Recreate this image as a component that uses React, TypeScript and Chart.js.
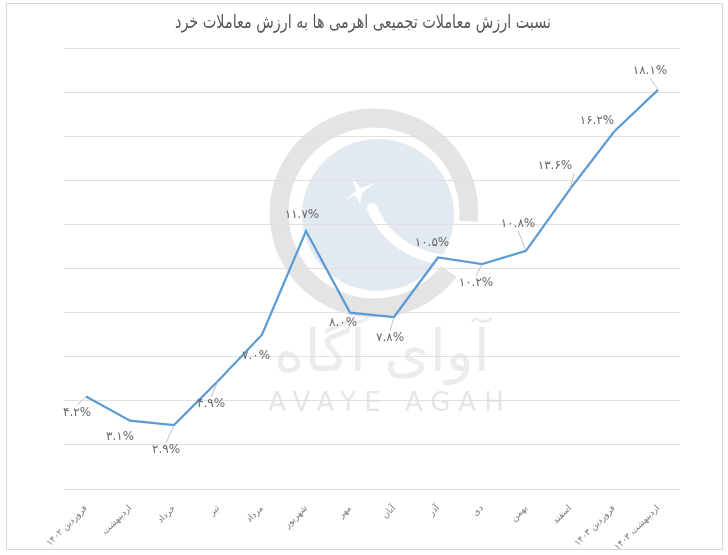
import React, { useEffect, useRef } from "react";
import { Chart, registerables } from "chart.js";

Chart.register(...registerables);

const TITLE = "نسبت ارزش معاملات تجمیعی اهرمی ها به ارزش معاملات خرد";

const categories = [
  "فروردین ۱۴۰۲",
  "اردیبهشت",
  "خرداد",
  "تیر",
  "مرداد",
  "شهریور",
  "مهر",
  "آبان",
  "آذر",
  "دی",
  "بهمن",
  "اسفند",
  "فروردین ۱۴۰۳",
  "اردیبهشت ۱۴۰۳",
];

const values = [4.2, 3.1, 2.9, 4.9, 7.0, 11.7, 8.0, 7.8, 10.5, 10.2, 10.8, 13.6, 16.2, 18.1];

const yMin = 0;
const yMax = 20;
const yStep = 2;

// label placement relative to each point: [dx, dy, leaderLine]
const labelOffsets: [number, number, boolean][] = [
  [-9, 16, true],
  [-10, 16, false],
  [-8, 25, true],
  [-7, 23, true],
  [-6, 21, false],
  [-4, -16, false],
  [-7, 10, false],
  [-4, 21, true],
  [-6, -15, false],
  [-6, 19, true],
  [-8, -27, true],
  [-15, -23, true],
  [-17, -11, true],
  [-8, -19, true],
];

const FA_DIGITS = "۰۱۲۳۴۵۶۷۸۹";
function toFa(v: number): string {
  return v
    .toFixed(1)
    .replace(/[0-9]/g, (d) => FA_DIGITS[Number(d)]) + "%";
}

const FONT = "'DejaVu Sans', 'Noto Sans', sans-serif";
const TEXT_COLOR = "#666666";

const framePlugin = {
  id: "frameAndWatermark",
  beforeDraw(chart: any) {
    const ctx = chart.ctx as CanvasRenderingContext2D;
    ctx.save();
    ctx.fillStyle = "#ffffff";
    ctx.fillRect(0, 0, chart.width, chart.height);
    // outer border
    ctx.strokeStyle = "#d9d9d9";
    ctx.lineWidth = 1;
    ctx.strokeRect(6.5, 3.5, 716, 546);

    // watermark
    const cx = 374;
    const cy = 213;
    ctx.strokeStyle = "#e4e4e4";
    ctx.lineWidth = 19;
    ctx.beginPath();
    ctx.arc(cx, cy, 95, (38 * Math.PI) / 180, (365 * Math.PI) / 180);
    ctx.stroke();

    ctx.fillStyle = "#e2e9f1";
    ctx.beginPath();
    ctx.arc(cx + 4, cy + 2, 76, 0, Math.PI * 2);
    ctx.fill();

    // swoosh
    ctx.strokeStyle = "#ffffff";
    ctx.lineWidth = 10;
    ctx.lineCap = "round";
    ctx.beginPath();
    ctx.moveTo(372, 208);
    ctx.quadraticCurveTo(395, 262, 470, 262);
    ctx.stroke();
    // star
    ctx.fillStyle = "#ffffff";
    const sx = 358;
    const sy = 190;
    ctx.beginPath();
    ctx.moveTo(sx - 13, sy + 10);
    ctx.lineTo(sx - 2, sy + 1);
    ctx.lineTo(sx - 6, sy - 12);
    ctx.lineTo(sx + 3, sy - 2);
    ctx.lineTo(sx + 16, sy - 7);
    ctx.lineTo(sx + 4, sy + 3);
    ctx.lineTo(sx + 2, sy + 14);
    ctx.lineTo(sx - 3, sy + 5);
    ctx.closePath();
    ctx.fill();

    // watermark texts
    ctx.fillStyle = "#ececec";
    ctx.textAlign = "center";
    ctx.textBaseline = "middle";
    ctx.font = `58px ${FONT}`;
    ctx.fillText("آوای آگاه", 382, 356);
    ctx.fillStyle = "#e6e6e6";
    ctx.font = `26px ${FONT}`;
    (ctx as any).letterSpacing = "8px";
    ctx.fillText("AVAYE AGAH", 390, 404);
    (ctx as any).letterSpacing = "0px";

    // title (compressed horizontally to match the reference width)
    ctx.fillStyle = "#595959";
    ctx.font = `19px ${FONT}`;
    ctx.textAlign = "center";
    ctx.textBaseline = "middle";
    const w = ctx.measureText(TITLE).width;
    const sc = Math.min(1, 376 / w);
    ctx.translate(363, 23);
    ctx.scale(sc, 1);
    ctx.fillText(TITLE, 0, 0);
    ctx.restore();
  },
};

const labelPlugin = {
  id: "pointLabels",
  afterDatasetsDraw(chart: any) {
    const ctx = chart.ctx as CanvasRenderingContext2D;
    const meta = chart.getDatasetMeta(0);
    ctx.save();
    ctx.font = `12px ${FONT}`;
    ctx.textAlign = "center";
    ctx.textBaseline = "middle";
    meta.data.forEach((pt: any, i: number) => {
      const [dx, dy, leader] = labelOffsets[i];
      const lx = pt.x + dx;
      const ly = pt.y + dy;
      const text = toFa(values[i]);
      if (leader) {
        const w = ctx.measureText(text).width;
        let ex = lx;
        let ey = ly;
        if (dy > 0) ey = ly - 7;
        else ey = ly + 7;
        if (Math.abs(dx) > 12) ex = lx + w / 2 + 2;
        ctx.strokeStyle = "#b0b0b0";
        ctx.lineWidth = 0.8;
        ctx.beginPath();
        ctx.moveTo(pt.x, pt.y);
        ctx.lineTo(ex, ey);
        ctx.stroke();
      }
      ctx.fillStyle = TEXT_COLOR;
      ctx.fillText(text, lx, ly);
    });
    ctx.restore();
  },
};

export default function App() {
  const canvasRef = useRef<HTMLCanvasElement | null>(null);

  useEffect(() => {
    if (!canvasRef.current) return;
    const chart = new Chart(canvasRef.current, {
      type: "line",
      data: {
        labels: categories,
        datasets: [
          {
            data: values,
            borderColor: "#5b9bd5",
            borderWidth: 2.25,
            pointRadius: 0,
            tension: 0,
            fill: false,
          },
        ],
      },
      options: {
        responsive: false,
        animation: false,
        layout: { padding: { left: 64, right: 48, top: 48, bottom: 0 } },
        plugins: {
          legend: { display: false },
          tooltip: { enabled: false },
          title: { display: false },
        },
        scales: {
          x: {
            offset: true,
            grid: { display: false },
            border: { display: false },
            ticks: {
              autoSkip: false,
              minRotation: 45,
              maxRotation: 45,
              padding: 6,
              color: "#7a7a7a",
              font: { family: FONT, size: 9 },
            },
            afterFit: (s: any) => {
              s.height = 66;
            },
          },
          y: {
            min: yMin,
            max: yMax,
            ticks: { display: false, stepSize: yStep },
            grid: { color: "#e0e0e0", drawTicks: false, lineWidth: 1 },
            border: { display: false },
            afterFit: (s: any) => {
              s.width = 0;
            },
          },
        },
      } as any,
      plugins: [framePlugin, labelPlugin],
    });
    return () => chart.destroy();
  }, []);

  return (
    <div style={{ position: "absolute", left: 0, top: 0, width: 728, height: 555 }}>
      <canvas ref={canvasRef} width={728} height={555} />
    </div>
  );
}
